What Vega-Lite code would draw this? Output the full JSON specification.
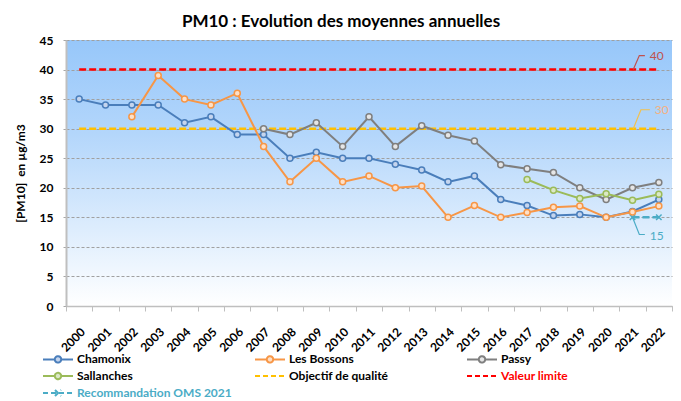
{
  "$schema": "https://vega.github.io/schema/vega-lite/v6.json",
  "width": 606,
  "height": 266,
  "autosize": {"type": "none"},
  "padding": {"left": 66, "top": 40, "right": 9, "bottom": 95},
  "background": "white",
  "view": {
    "stroke": null,
    "fill": {
      "gradient": "linear", "x1": 0, "y1": 0, "x2": 0, "y2": 1,
      "stops": [
        {"offset": 0, "color": "#97c7fa"},
        {"offset": 0.35, "color": "#b3d6fb"},
        {"offset": 0.7, "color": "#dcecfd"},
        {"offset": 1, "color": "#ffffff"}
      ]
    }
  },
  "config": {
    "font": "Lato",
    "axisX": {
      "tickBand": "extent", "labelAngle": -45, "labelFont": "Lato", "labelFontWeight": "bold", "labelFontSize": 12,
      "labelColor": "#000000", "domainColor": "#bfbfbf", "domainWidth": 1.5, "tickColor": "#bfbfbf", "tickSize": 5,
      "labelPadding": 15, "grid": false, "title": null
    },
    "axisY": {
      "labelFont": "Lato", "labelFontWeight": "bold", "labelFontSize": 12, "labelColor": "#000000",
      "domainColor": "#bfbfbf", "domainWidth": 2, "tickColor": "#a6a6a6", "tickSize": 5, "tickDash": [3, 2],
      "labelPadding": 8, "grid": true, "gridColor": "#a0a0a0", "gridDash": [3, 2], "gridWidth": 1,
      "titleFont": "Lato", "titleFontWeight": "bold", "titleFontSize": 12, "titleColor": "#000000", "titlePadding": 12
    }
  },
  "title": {
    "text": "PM10 : Evolution des moyennes annuelles",
    "font": "Lato", "fontSize": 17, "fontWeight": "bold", "color": "#000000",
    "anchor": "middle", "dx": -28, "offset": 3
  },
  "datasets": {
    "series": [
      {"year": "2000", "station": "Chamonix", "value": 35},
      {"year": "2001", "station": "Chamonix", "value": 34},
      {"year": "2002", "station": "Chamonix", "value": 34},
      {"year": "2003", "station": "Chamonix", "value": 34},
      {"year": "2004", "station": "Chamonix", "value": 31},
      {"year": "2005", "station": "Chamonix", "value": 32},
      {"year": "2006", "station": "Chamonix", "value": 29},
      {"year": "2007", "station": "Chamonix", "value": 29},
      {"year": "2008", "station": "Chamonix", "value": 25},
      {"year": "2009", "station": "Chamonix", "value": 26},
      {"year": "2010", "station": "Chamonix", "value": 25},
      {"year": "2011", "station": "Chamonix", "value": 25},
      {"year": "2012", "station": "Chamonix", "value": 24},
      {"year": "2013", "station": "Chamonix", "value": 23},
      {"year": "2014", "station": "Chamonix", "value": 21},
      {"year": "2015", "station": "Chamonix", "value": 22},
      {"year": "2016", "station": "Chamonix", "value": 18},
      {"year": "2017", "station": "Chamonix", "value": 17},
      {"year": "2018", "station": "Chamonix", "value": 15.3},
      {"year": "2019", "station": "Chamonix", "value": 15.5},
      {"year": "2020", "station": "Chamonix", "value": 15},
      {"year": "2021", "station": "Chamonix", "value": 16},
      {"year": "2022", "station": "Chamonix", "value": 18},
      {"year": "2002", "station": "Les Bossons", "value": 32},
      {"year": "2003", "station": "Les Bossons", "value": 39},
      {"year": "2004", "station": "Les Bossons", "value": 35},
      {"year": "2005", "station": "Les Bossons", "value": 34},
      {"year": "2006", "station": "Les Bossons", "value": 36},
      {"year": "2007", "station": "Les Bossons", "value": 27},
      {"year": "2008", "station": "Les Bossons", "value": 21},
      {"year": "2009", "station": "Les Bossons", "value": 25},
      {"year": "2010", "station": "Les Bossons", "value": 21},
      {"year": "2011", "station": "Les Bossons", "value": 22},
      {"year": "2012", "station": "Les Bossons", "value": 20},
      {"year": "2013", "station": "Les Bossons", "value": 20.3},
      {"year": "2014", "station": "Les Bossons", "value": 15},
      {"year": "2015", "station": "Les Bossons", "value": 17},
      {"year": "2016", "station": "Les Bossons", "value": 15},
      {"year": "2017", "station": "Les Bossons", "value": 15.8},
      {"year": "2018", "station": "Les Bossons", "value": 16.7},
      {"year": "2019", "station": "Les Bossons", "value": 16.9},
      {"year": "2020", "station": "Les Bossons", "value": 15},
      {"year": "2021", "station": "Les Bossons", "value": 15.9},
      {"year": "2022", "station": "Les Bossons", "value": 16.9},
      {"year": "2007", "station": "Passy", "value": 30},
      {"year": "2008", "station": "Passy", "value": 29},
      {"year": "2009", "station": "Passy", "value": 31},
      {"year": "2010", "station": "Passy", "value": 27},
      {"year": "2011", "station": "Passy", "value": 32},
      {"year": "2012", "station": "Passy", "value": 27},
      {"year": "2013", "station": "Passy", "value": 30.5},
      {"year": "2014", "station": "Passy", "value": 28.9},
      {"year": "2015", "station": "Passy", "value": 27.9},
      {"year": "2016", "station": "Passy", "value": 23.9},
      {"year": "2017", "station": "Passy", "value": 23.2},
      {"year": "2018", "station": "Passy", "value": 22.6},
      {"year": "2019", "station": "Passy", "value": 20},
      {"year": "2020", "station": "Passy", "value": 18},
      {"year": "2021", "station": "Passy", "value": 20},
      {"year": "2022", "station": "Passy", "value": 20.9},
      {"year": "2017", "station": "Sallanches", "value": 21.4},
      {"year": "2018", "station": "Sallanches", "value": 19.6},
      {"year": "2019", "station": "Sallanches", "value": 18.2},
      {"year": "2020", "station": "Sallanches", "value": 19},
      {"year": "2021", "station": "Sallanches", "value": 17.9},
      {"year": "2022", "station": "Sallanches", "value": 18.9}
    ],
    "refs": [
      {"year": "2000", "station": "Objectif de qualité", "value": 30},
      {"year": "2022", "station": "Objectif de qualité", "value": 30},
      {"year": "2000", "station": "Valeur limite", "value": 40},
      {"year": "2022", "station": "Valeur limite", "value": 40},
      {"year": "2021", "station": "Recommandation OMS 2021", "value": 15},
      {"year": "2022", "station": "Recommandation OMS 2021", "value": 15}
    ]
  },
  "encoding": {
    "y": {
      "field": "value", "type": "quantitative",
      "scale": {"domain": [0, 45], "nice": false},
      "title": "[PM10]\u00a0 en µg/m3",
      "axis": {"values": [0, 5, 10, 15, 20, 25, 30, 35, 40, 45]}
    }
  },
  "layer": [
    {
      "layer": [
        {
          "data": {"name": "refs"},
          "mark": {"type": "line", "strokeWidth": 2.5, "strokeDash": [7, 3]},
          "encoding": {
            "x": {
              "field": "year", "type": "ordinal",
              "scale": {"type": "band", "paddingInner": 0, "paddingOuter": 0,
                "domain": ["2000","2001","2002","2003","2004","2005","2006","2007","2008","2009","2010","2011","2012","2013","2014","2015","2016","2017","2018","2019","2020","2021","2022"]}
            },
            "stroke": {
              "field": "station", "type": "nominal",
              "scale": {
                "domain": ["Chamonix", "Les Bossons", "Passy", "Sallanches", "Objectif de qualité", "Valeur limite", "Recommandation OMS 2021"],
                "range": ["#4a7ebb", "#f79646", "#7f7f7f", "#9bbb59", "#ffc000", "#ff0000", "#4bacc6"]
              },
              "legend": {
                "orient": "none", "legendX": -24, "legendY": 313, "columns": 3, "direction": "horizontal", "gridAlign": "all",
                "columnPadding": 19, "rowPadding": 1, "title": null, "padding": 0,
                "symbolType": "M-1,0H5", "symbolSize": 100, "symbolStrokeWidth": 2,
                "labelFont": "Lato", "labelFontSize": 12, "labelFontWeight": "bold", "labelColor": "#000000",
                "labelOffset": 23, "labelLimit": 300,
                "encode": {
                  "symbols": {"update": {
                    "shape": {"signal": "datum.label == 'Objectif de qualité' || datum.label == 'Valeur limite' ? 'M-1,0H5' : datum.label == 'Recommandation OMS 2021' ? 'M-1,0H5M1.4,-0.6L2.6,0.6M1.4,0.6L2.6,-0.6' : 'M-1,0H1.36M2.64,0H5M2.64,0A0.64,0.64 0 1,1 1.36,0A0.64,0.64 0 1,1 2.64,0'"},
                    "strokeDash": {"signal": "datum.label == 'Objectif de qualité' || datum.label == 'Valeur limite' || datum.label == 'Recommandation OMS 2021' ? [5, 3] : [1, 0]"},
                    "fill": {"signal": "datum.label == 'Chamonix' ? '#c5d5ee' : datum.label == 'Les Bossons' ? '#fde0c8' : datum.label == 'Passy' ? '#e6e6e6' : datum.label == 'Sallanches' ? '#dbe8c5' : 'transparent'"}
                  }},
                  "labels": {"update": {
                    "fill": {"signal": "datum.label == 'Valeur limite' ? '#ff0000' : datum.label == 'Recommandation OMS 2021' ? '#4bacc6' : '#000000'"}
                  }}
                }
              }
            }
          }
        },
        {
          "data": {"name": "refs"},
          "transform": [{"filter": "datum.station == 'Recommandation OMS 2021'"}],
          "mark": {"type": "point", "shape": "M-1,-1L1,1M-1,1L1,-1", "size": 30, "strokeWidth": 1.5, "filled": false, "opacity": 1},
          "encoding": {
            "x": {"field": "year", "type": "ordinal"},
            "stroke": {"field": "station", "type": "nominal"}
          }
        },
        {
          "data": {"name": "series"},
          "mark": {"type": "line", "strokeWidth": 2},
          "encoding": {
            "x": {"field": "year", "type": "ordinal"},
            "stroke": {"field": "station", "type": "nominal"}
          }
        },
        {
          "data": {"name": "series"},
          "mark": {"type": "point", "shape": "circle", "size": 36, "strokeWidth": 1.5, "opacity": 1, "fillOpacity": 1},
          "encoding": {
            "x": {"field": "year", "type": "ordinal"},
            "stroke": {"field": "station", "type": "nominal"},
            "fill": {
              "field": "station", "type": "nominal", "legend": null,
              "scale": {"domain": ["Chamonix", "Les Bossons", "Passy", "Sallanches"], "range": ["#c5d5ee", "#fde0c8", "#e6e6e6", "#dbe8c5"]}
            }
          }
        }
      ]
    },
    {
      "layer": [
        {
          "data": {"values": [{"x": 2021.03, "value": 40}, {"x": 2021.26, "value": 42.37}, {"x": 2021.47, "value": 42.37}]},
          "mark": {"type": "line", "color": "#c0504d", "strokeWidth": 1.2},
          "encoding": {
            "x": {"field": "x", "type": "quantitative", "scale": {"domain": [1999.5, 2022.5], "nice": false, "zero": false}, "axis": null}
          }
        },
        {
          "data": {"values": [{"x": 2021.66, "value": 42.37, "t": "40"}]},
          "mark": {"type": "text", "color": "#c0504d", "fontSize": 12, "font": "Lato", "align": "left", "baseline": "middle"},
          "encoding": {
            "x": {"field": "x", "type": "quantitative"},
            "text": {"field": "t"}
          }
        },
        {
          "data": {"values": [{"x": 2021.03, "value": 30}, {"x": 2021.32, "value": 33.2}, {"x": 2021.66, "value": 33.2}]},
          "mark": {"type": "line", "color": "#f2c14e", "strokeWidth": 1.2},
          "encoding": {
            "x": {"field": "x", "type": "quantitative"}
          }
        },
        {
          "data": {"values": [{"x": 2021.85, "value": 33.2, "t": "30"}]},
          "mark": {"type": "text", "color": "#f4b183", "fontSize": 12, "font": "Lato", "align": "left", "baseline": "middle"},
          "encoding": {
            "x": {"field": "x", "type": "quantitative"},
            "text": {"field": "t"}
          }
        },
        {
          "data": {"values": [{"x": 2021.0, "value": 15}, {"x": 2021.26, "value": 12.1}, {"x": 2021.47, "value": 12.1}]},
          "mark": {"type": "line", "color": "#4bacc6", "strokeWidth": 1.2},
          "encoding": {
            "x": {"field": "x", "type": "quantitative"}
          }
        },
        {
          "data": {"values": [{"x": 2021.66, "value": 11.9, "t": "15"}]},
          "mark": {"type": "text", "color": "#4bacc6", "fontSize": 12, "font": "Lato", "align": "left", "baseline": "middle"},
          "encoding": {
            "x": {"field": "x", "type": "quantitative"},
            "text": {"field": "t"}
          }
        }
      ]
    }
  ],
  "resolve": {"scale": {"x": "independent"}}
}
